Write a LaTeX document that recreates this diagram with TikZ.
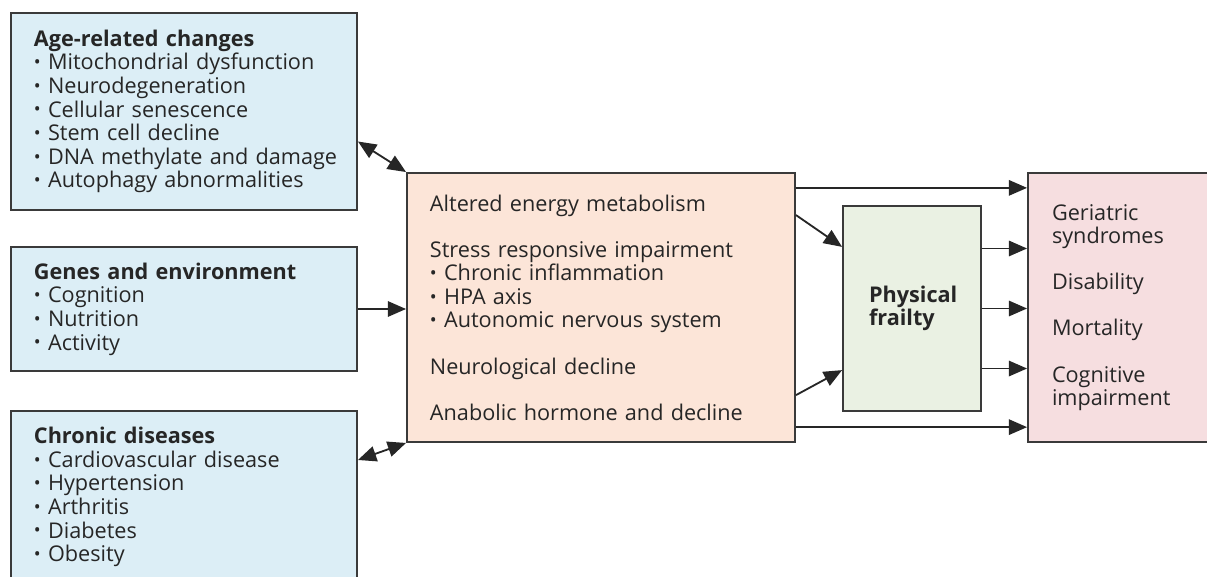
\documentclass[tikz,border=0pt]{standalone}
\usepackage{fontspec}
\setmainfont{Open Sans}
\usetikzlibrary{arrows.meta, calc}
\hbadness=10000
\definecolor{boxline}{HTML}{3A3A3A}
\definecolor{causebg}{HTML}{DCEEF6}
\definecolor{mechbg}{HTML}{FCE5D8}
\definecolor{frailbg}{HTML}{EAF1E3}
\definecolor{outbg}{HTML}{F6DEE0}
\newcommand{\bul}{\raisebox{.1ex}{\fontsize{13}{13}\selectfont•}\ }
\tikzstyle{box} = [rectangle, draw=boxline, line width=1.3pt, align=left,
inner sep=0pt, text=black!85, font=\fontsize{15.4}{16.8}\selectfont]
\tikzstyle{arrow} = [line width=1.3pt, draw=black!85,
-{Triangle[length=13pt, width=11pt]}]
\tikzstyle{biarrow} = [line width=1.3pt, draw=black!85,
{Triangle[length=13pt, width=11pt]}-{Triangle[length=13pt, width=11pt]}]

\begin{document}
\begin{tikzpicture}[x=0.025cm, y=-0.025cm]

      \useasboundingbox (0,0) rectangle (1207,577);
      \clip (0,0) rectangle (1207,577);

      % causes on the left
      \node (AGE) [box, fill=causebg, minimum width=8.65cm, minimum height=4.925cm,
      text width=7.5cm] at (184,111.5) {\textbf{Age-related changes}\\
      \bul Mitochondrial dysfunction\\ \bul Neurodegeneration\\ \bul Cellular senescence\\
      \bul Stem cell decline\\ \mbox{\bul DNA methylate and damage}\\ \bul Autophagy abnormalities};

      \node (GENE) [box, fill=causebg, minimum width=8.65cm, minimum height=3.1cm,
      text width=7.5cm] at (184,309) {\textbf{Genes and environment}\\
      \bul Cognition\\ \bul Nutrition\\ \bul Activity};

      \node (CHRON) [box, fill=causebg, minimum width=8.65cm, minimum height=4.3cm,
      text width=7.5cm] at (184,497) {\textbf{Chronic diseases}\\
      \bul Cardiovascular disease\\ \bul Hypertension\\ \bul Arthritis\\ \bul Diabetes\\ \bul Obesity};

      % mechanisms
      \node (MECH) [box, fill=mechbg, minimum width=9.7cm, minimum height=6.725cm,
      text width=8.55cm] at (601,307.5) {Altered energy metabolism\\[16pt]
      Stress responsive impairment\\ \bul Chronic inflammation\\ \bul HPA axis\\
      \bul Autonomic nervous system\\[16pt] Neurological decline\\[16pt]
      Anabolic hormone and decline};

      \node (FRAIL) [box, fill=frailbg, minimum width=3.45cm, minimum height=5.125cm,
      text width=2.15cm] at (912,308.5) {\textbf{Physical}\\ \textbf{frailty}};

      % outcomes
      \node (OUT) [box, fill=outbg, minimum width=4.675cm, minimum height=6.725cm,
      text width=3.475cm] at (1121.5,307.5) {Geriatric\\ syndromes\\[16pt]
      Disability\\[16pt] Mortality\\[16pt] Cognitive\\ impairment};

      \draw [biarrow] ([yshift=-0.75cm]AGE.east) -- (MECH.north west);
      \draw [arrow] (GENE.east) -- (GENE.east -| MECH.west);
      \draw [biarrow] ([yshift=0.925cm]CHRON.east) -- (MECH.south west);

      \draw [arrow] ([yshift=2.99cm]MECH.east) -- ([yshift=2.99cm]MECH.east -| OUT.west);
      \draw [arrow] ([yshift=2.31cm]MECH.east) -- ([yshift=1.54cm]FRAIL.west);
      \draw [arrow] ([yshift=-2.19cm]MECH.east) -- ([yshift=-1.54cm]FRAIL.west);
      \draw [arrow] ([yshift=-2.99cm]MECH.east) -- ([yshift=-2.99cm]MECH.east -| OUT.west);

      \foreach \dy in {1.5cm, 0cm, -1.5cm}
        \draw [arrow] ([yshift=\dy]FRAIL.east) -- ([yshift=\dy]FRAIL.east -| OUT.west);

\end{tikzpicture}
\end{document}
